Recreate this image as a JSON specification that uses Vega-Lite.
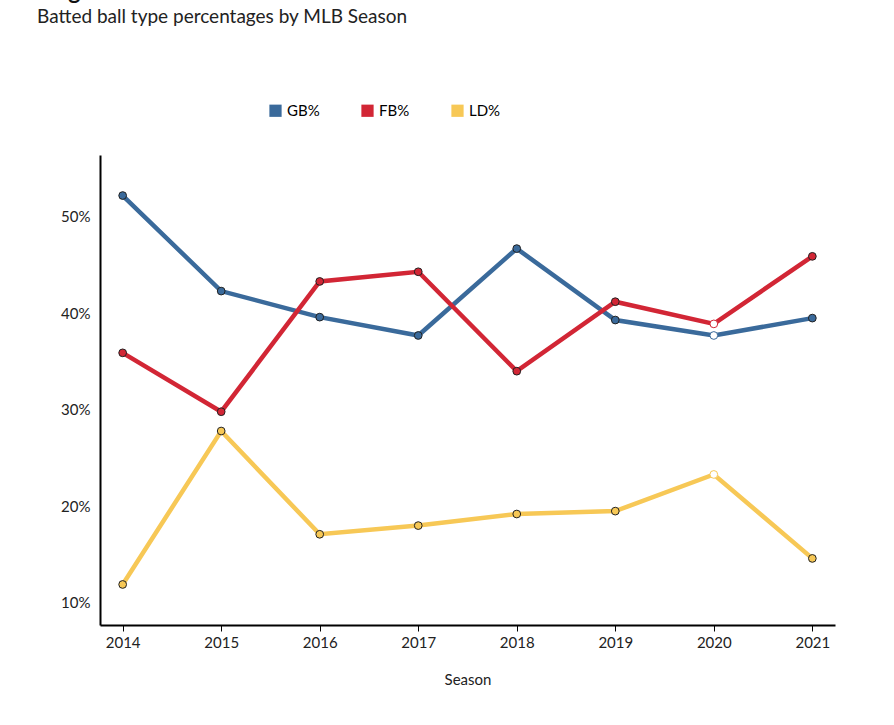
{
  "$schema": "https://vega.github.io/schema/vega-lite/v6.json",
  "autosize": "none",
  "width": 735,
  "height": 470,
  "padding": {"left": 100, "top": 155, "right": 59, "bottom": 100},
  "background": "white",
  "title": {
    "text": "Jorge Soler's Season Batted Ball Stats",
    "subtitle": "Batted ball type percentages by MLB Season",
    "anchor": "start",
    "frame": "group",
    "dx": -63,
    "offset": 76,
    "font": "Lato",
    "fontSize": 23,
    "fontWeight": "bold",
    "color": "#111",
    "subtitleFont": "Lato",
    "subtitleFontSize": 19,
    "subtitleColor": "#222",
    "subtitlePadding": 4
  },
  "data": {
    "values": [
      {"Season": "2014", "Type": "GB%", "Pct": 0.522},
      {"Season": "2015", "Type": "GB%", "Pct": 0.423},
      {"Season": "2016", "Type": "GB%", "Pct": 0.396},
      {"Season": "2017", "Type": "GB%", "Pct": 0.377},
      {"Season": "2018", "Type": "GB%", "Pct": 0.467},
      {"Season": "2019", "Type": "GB%", "Pct": 0.393},
      {"Season": "2020", "Type": "GB%", "Pct": 0.377},
      {"Season": "2021", "Type": "GB%", "Pct": 0.395},
      {"Season": "2014", "Type": "FB%", "Pct": 0.359},
      {"Season": "2015", "Type": "FB%", "Pct": 0.298},
      {"Season": "2016", "Type": "FB%", "Pct": 0.433},
      {"Season": "2017", "Type": "FB%", "Pct": 0.443},
      {"Season": "2018", "Type": "FB%", "Pct": 0.340},
      {"Season": "2019", "Type": "FB%", "Pct": 0.412},
      {"Season": "2020", "Type": "FB%", "Pct": 0.389},
      {"Season": "2021", "Type": "FB%", "Pct": 0.459},
      {"Season": "2014", "Type": "LD%", "Pct": 0.119},
      {"Season": "2015", "Type": "LD%", "Pct": 0.278},
      {"Season": "2016", "Type": "LD%", "Pct": 0.171},
      {"Season": "2017", "Type": "LD%", "Pct": 0.180},
      {"Season": "2018", "Type": "LD%", "Pct": 0.192},
      {"Season": "2019", "Type": "LD%", "Pct": 0.195},
      {"Season": "2020", "Type": "LD%", "Pct": 0.233},
      {"Season": "2021", "Type": "LD%", "Pct": 0.146}
    ]
  },
  "encoding": {
    "x": {
      "field": "Season",
      "type": "ordinal",
      "scale": {"type": "point", "padding": 0.23},
      "axis": {
        "labelAngle": 0,
        "titlePadding": 22,
        "tickSize": 6,
        "labelPadding": 4
      }
    },
    "y": {
      "field": "Pct",
      "type": "quantitative",
      "scale": {"domain": [0.077, 0.564], "nice": false, "zero": false},
      "axis": {"values": [0.1, 0.2, 0.3, 0.4, 0.5], "format": ".0%", "title": null, "ticks": false, "labelPadding": 10, "grid": false}
    },
    "color": {
      "field": "Type",
      "type": "nominal",
      "sort": ["GB%", "FB%", "LD%"],
      "scale": {"domain": ["GB%", "FB%", "LD%"], "range": ["#3a6a9b", "#d22635", "#f7c856"]},
      "legend": {
        "title": null,
        "orient": "none",
        "direction": "horizontal",
        "legendX": 168,
        "legendY": -52,
        "symbolType": "square",
        "symbolSize": 150,
        "symbolOpacity": 1,
        "symbolStrokeWidth": 0,
        "labelFontSize": 15,
        "columnPadding": 40,
        "labelFont": "Lato",
        "encode": {
          "symbols": {"update": {"fill": {"scale": "color", "field": "value"}, "strokeWidth": {"value": 0}}}
        }
      }
    }
  },
  "layer": [
    {"mark": {"type": "line", "strokeWidth": 4.5}},
    {
      "mark": {"type": "point", "filled": true, "size": 60, "strokeWidth": 1, "opacity": 1},
      "encoding": {
        "fill": {
          "condition": {"test": "datum.Season == '2020'", "value": "white"},
          "field": "Type",
          "type": "nominal",
          "scale": {"domain": ["GB%", "FB%", "LD%"], "range": ["#3a6a9b", "#d22635", "#f7c856"]},
          "legend": null
        },
        "stroke": {
          "condition": {"test": "datum.Season == '2020'", "field": "Type", "type": "nominal", "legend": null, "scale": {"domain": ["GB%", "FB%", "LD%"], "range": ["#3a6a9b", "#d22635", "#f7c856"]}},
          "value": "#222"
        }
      }
    }
  ],
  "config": {
    "view": {"stroke": null},
    "font": "Lato",
    "axis": {
      "domainColor": "#000",
      "domainWidth": 2,
      "tickColor": "#000",
      "labelFont": "Lato",
      "labelFontSize": 15,
      "labelColor": "#222",
      "titleFont": "Lato",
      "titleFontSize": 15,
      "titleFontWeight": "normal",
      "titleColor": "#222"
    }
  }
}
